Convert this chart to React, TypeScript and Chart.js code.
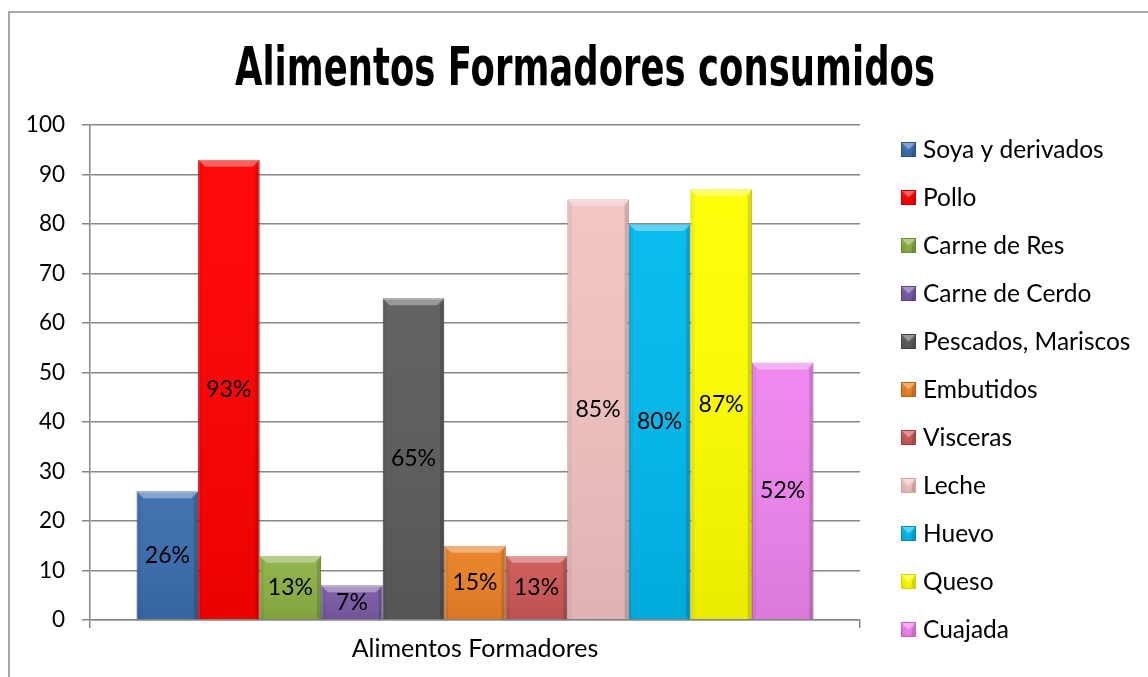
import React, { useEffect, useRef } from "react";
import { Chart, registerables } from "chart.js";

Chart.register(...registerables);

const TITLE = "Alimentos Formadores consumidos";
const CATEGORY = ["Alimentos Formadores"];
const SERIES_NAMES = [
  "Soya y derivados",
  "Pollo",
  "Carne de Res",
  "Carne de Cerdo",
  "Pescados, Mariscos",
  "Embutidos",
  "Visceras",
  "Leche",
  "Huevo",
  "Queso",
  "Cuajada",
];
const SERIES_VALUES = [26, 93, 13, 7, 65, 15, 13, 85, 80, 87, 52];
const SERIES_COLORS = [
  "#3A6DAE",
  "#FF0000",
  "#8CB043",
  "#7A5AA6",
  "#5C5C5C",
  "#EA8026",
  "#CC5856",
  "#F2C2C2",
  "#00B9EE",
  "#FFFF00",
  "#EE84EE",
];
const SERIES_BORDERS = [
  "#2B5487",
  "#D00000",
  "#6E8C30",
  "#5C4380",
  "#444444",
  "#B8621A",
  "#A04040",
  "#D9A3A3",
  "#0090BB",
  "#D8D800",
  "#C860C8",
];
const Y_MIN = 0;
const Y_MAX = 100;
const Y_STEP = 10;

const FONT = "Lato, 'Open Sans', sans-serif";
const TITLE_FONT = "'DejaVu Sans', sans-serif";

function drawBevel(ctx: any, x: number, y: number, w: number, h: number) {
  const b = Math.min(7, h / 2, w / 2);
  ctx.save();
  const g = ctx.createLinearGradient(0, y, 0, y + h);
  g.addColorStop(0, "rgba(255,255,255,0.04)");
  g.addColorStop(1, "rgba(0,0,0,0.08)");
  ctx.fillStyle = g;
  ctx.fillRect(x, y, w, h);
  ctx.fillStyle = "rgba(255,255,255,0.35)";
  ctx.beginPath();
  ctx.moveTo(x, y);
  ctx.lineTo(x + w, y);
  ctx.lineTo(x + w - b, y + b);
  ctx.lineTo(x + b, y + b);
  ctx.closePath();
  ctx.fill();
  ctx.fillStyle = "rgba(0,0,0,0.05)";
  ctx.beginPath();
  ctx.moveTo(x, y);
  ctx.lineTo(x + b * 0.6, y + b);
  ctx.lineTo(x + b * 0.6, y + h);
  ctx.lineTo(x, y + h);
  ctx.closePath();
  ctx.fill();
  ctx.fillStyle = "rgba(0,0,0,0.14)";
  ctx.beginPath();
  ctx.moveTo(x + w, y);
  ctx.lineTo(x + w - b * 0.6, y + b);
  ctx.lineTo(x + w - b * 0.6, y + h);
  ctx.lineTo(x + w, y + h);
  ctx.closePath();
  ctx.fill();
  ctx.restore();
}

const decorPlugin = {
  id: "decor",
  beforeDraw(chart: any) {
    const ctx = chart.ctx;
    ctx.save();
    ctx.fillStyle = "#ffffff";
    ctx.fillRect(0, 0, chart.width, chart.height);
    ctx.strokeStyle = "#8c8c8c";
    ctx.lineWidth = 1.5;
    ctx.beginPath();
    ctx.moveTo(9, chart.height + 2);
    ctx.lineTo(9, 12);
    ctx.lineTo(chart.width + 2, 12);
    ctx.stroke();
    ctx.restore();
  },
  afterDatasetsDraw(chart: any) {
    const ctx = chart.ctx;
    ctx.save();
    chart.data.datasets.forEach((_ds: any, i: number) => {
      const el = chart.getDatasetMeta(i).data[0];
      if (!el) return;
      const w = el.width;
      drawBevel(ctx, el.x - w / 2, el.y, w, el.base - el.y);
    });
    ctx.font = `23px ${FONT}`;
    ctx.fillStyle = "#000000";
    ctx.textAlign = "center";
    ctx.textBaseline = "middle";
    chart.data.datasets.forEach((ds: any, i: number) => {
      const el = chart.getDatasetMeta(i).data[0];
      if (!el) return;
      const v = ds.data[0];
      const y = (el.y + el.base) / 2;
      ctx.fillText(`${v}%`, el.x, y);
    });
    ctx.restore();
  },
  afterDraw(chart: any) {
    const ctx = chart.ctx;
    ctx.save();
    ctx.font = `bold 54px ${TITLE_FONT}`;
    ctx.fillStyle = "#000000";
    ctx.textAlign = "center";
    ctx.textBaseline = "alphabetic";
    const tw = ctx.measureText(TITLE).width;
    const sx = 700 / tw;
    ctx.translate(585, 85);
    ctx.scale(sx, 1);
    ctx.fillText(TITLE, 0, 0);
    ctx.restore();
    ctx.save();
    const x0 = 901;
    const y0 = 150;
    const step = 48;
    chart.data.datasets.forEach((ds: any, i: number) => {
      const cy = y0 + i * step;
      ctx.fillStyle = ds.backgroundColor;
      ctx.fillRect(x0, cy - 8, 15, 15);
      drawBevel(ctx, x0, cy - 8, 15, 15);
      ctx.strokeStyle = ds.borderColor;
      ctx.lineWidth = 1;
      ctx.strokeRect(x0 + 0.5, cy - 7.5, 14, 14);
      ctx.fillStyle = "#000000";
      ctx.font = `24.5px ${FONT}`;
      ctx.textAlign = "left";
      ctx.textBaseline = "middle";
      ctx.fillText(ds.label, 923, cy);
    });
    ctx.restore();
  },
};

export default function App() {
  const ref = useRef<HTMLCanvasElement>(null);
  useEffect(() => {
    document.body.style.margin = "0";
    const canvas = ref.current;
    if (!canvas) return;
    const chart = new Chart(canvas, {
      type: "bar",
      data: {
        labels: CATEGORY,
        datasets: SERIES_NAMES.map((name, i) => ({
          label: name,
          data: [SERIES_VALUES[i]],
          backgroundColor: SERIES_COLORS[i],
          borderColor: SERIES_BORDERS[i],
          borderWidth: 1,
          barPercentage: 1,
          categoryPercentage: 0.879,
        })),
      },
      options: {
        responsive: false,
        animation: false,
        devicePixelRatio: 1,
        layout: { padding: { left: 10, right: 288, top: 125, bottom: 0 } },
        plugins: {
          legend: { display: false },
          title: { display: false },
          tooltip: { enabled: false },
        },
        scales: {
          x: {
            grid: {
              display: true,
              offset: true,
              drawOnChartArea: false,
              drawTicks: true,
              tickLength: 8,
              color: "#878787",
              lineWidth: 1.5,
            },
            border: { display: true, color: "#878787", width: 1.5 },
            ticks: { color: "#000000", font: { family: FONT, size: 25 }, padding: 6 },
            afterFit: (scale: any) => {
              scale.height = 57;
            },
          },
          y: {
            min: Y_MIN,
            max: Y_MAX,
            ticks: {
              stepSize: Y_STEP,
              color: "#000000",
              font: { family: FONT, size: 22.5 },
              padding: 17,
            },
            grid: { color: "#878787", lineWidth: 1.5, tickLength: 8 },
            border: { display: true, color: "#878787", width: 1.5 },
            afterFit: (scale: any) => {
              scale.width = 80;
            },
          },
        },
      },
      plugins: [decorPlugin],
    });
    return () => chart.destroy();
  }, []);
  return (
    <canvas
      ref={ref}
      width={1148}
      height={677}
      style={{ position: "absolute", left: 0, top: 0, width: 1148, height: 677 }}
    />
  );
}
